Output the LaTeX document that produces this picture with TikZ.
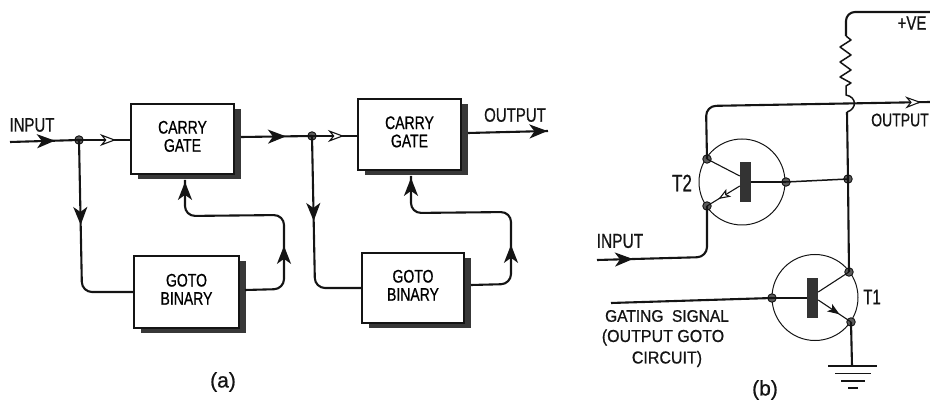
\documentclass[tikz,border=0pt]{standalone}
\usepackage{fontspec}
\usepackage{graphicx}
\setmainfont{Liberation Sans}[FakeBold=0.8]
\usetikzlibrary{shadows,arrows.meta,decorations.markings,bending}
\newcommand\lbl[2][14]{\scalebox{1}[1.3]{\fontsize{#1}{14}\selectfont #2}}
\newcommand\lblb[2]{\lbl{\begin{tabular}{@{}c@{}}#1\\#2\end{tabular}}}
\newcommand\tlbl[2][17]{\scalebox{1}[1.4]{\fontsize{#1}{18}\selectfont #2}}
\newcommand\slbl[2][16]{\scalebox{1}[1.08]{\fontsize{#1}{14}\selectfont #2}}
\definecolor{ink}{gray}{0.08}
\tikzset{
  x=1pt,y=-1pt,
  wire/.style={draw=ink,line width=2.1pt,rounded corners=10pt},
  thinwire/.style={draw=ink,line width=1.1pt},
  blockbox/.style={draw=ink,line width=1.7pt,fill=white,minimum width=#1,inner sep=0pt,
    general shadow={fill=black!78,shadow xshift=6.5pt,shadow yshift=-5.5pt}},
  dot/.style={circle,draw=ink,fill=ink!70,line width=0.9pt,minimum size=8.5pt,inner sep=0pt},
  txt/.style={inner sep=0pt,text=ink},
  solidarr/.style={postaction={decorate,decoration={markings,mark=at position #1 with {\arrow{Stealth[length=18pt,width=14pt,inset=5pt,fill=ink,color=ink]}}}}},
  openarr/.style={postaction={decorate,decoration={markings,mark=at position #1 with {\arrow[line width=1.1pt]{Stealth[length=16pt,width=12pt,inset=5pt,fill=white,color=ink]}}}}},
  tcircle/.style={circle,draw=ink,line width=1pt,minimum size=86pt,inner sep=0pt},
  tbar/.style={draw=none,fill=black!80,minimum width=11pt,minimum height=40pt,inner sep=0pt},
}
\begin{document}
\begin{tikzpicture}
\useasboundingbox (0,0) rectangle (930,414);
% ---------- part (a)
\node[blockbox=103pt,minimum height=70pt] (cg1) at (182.5,139) {\lblb{CARRY}{GATE}};
\node[blockbox=105pt,minimum height=72pt] (gb1) at (186.5,292) {\lblb{GOTO}{BINARY}};
\node[blockbox=103pt,minimum height=71pt] (cg2) at (409.5,134.5) {\lblb{CARRY}{GATE}};
\node[blockbox=102pt,minimum height=70pt] (gb2) at (413,288) {\lblb{GOTO}{BINARY}};
\coordinate (ain) at (10,142);
\coordinate (aout) at (548,131);
\node[dot] (j1) at (79,140) {};
\node[dot] (j2) at (312,136) {};
\coordinate (cg1r) at (241,137);
\coordinate (cg2r) at (468,133);
\coordinate (gb1r) at (245,290);
\coordinate (gb2r) at (471,285);
\draw[wire,solidarr=45pt] (ain) -- (j1.center);
\draw[wire,openarr=37pt] (j1.center) -- (cg1.west |- j1);
\draw[wire,solidarr=45pt] (cg1r) -- (j2.center);
\draw[wire,openarr=32pt] (j2.center) -- (cg2.west |- j2);
\draw[wire,solidarr=79.5pt] (cg2r) -- (aout);
\draw[wire,solidarr=85pt] (j1.center) -- (82,292) -- (gb1.west);
\draw[wire,solidarr=85pt] (j2.center) -- (315,288) -- (gb2.west);
\draw[wire,solidarr=78pt,solidarr=0.992] (gb1r) -- (284,289) -- (284,215) -- (185,216) -- (185,180);
\draw[wire,solidarr=75pt,solidarr=0.992] (gb2r) -- (511,284) -- (511,212) -- (411,213) -- (411,176);
\node[txt] at (32,125) {\lbl[15]{INPUT}};
\node[txt] at (515,115) {\lbl[15]{OUTPUT}};
\node[txt] at (223,382) {\fontsize{21}{24}\selectfont (a)};
% ---------- part (b)
\node[tcircle] (t2) at (742,182) {};
\node[tbar] (b2) at (745.5,182) {};
\node[tcircle] (t1) at (815,297.5) {};
\node[tbar] (b1) at (812.5,298) {};
\node[dot] (t2c) at (707,159) {};
\node[dot] (t2e) at (707,206) {};
\node[dot] (t2b) at (786,182) {};
\node[dot] (jb) at (848,179) {};
\node[dot] (t1c) at (849,272) {};
\node[dot] (t1e) at (851,322) {};
\node[dot] (t1b) at (772,298) {};
\coordinate (vcc) at (930,12);
\coordinate (bout) at (930,102);
\coordinate (bin) at (597,260);
\coordinate (gate) at (611,303);
\coordinate (gnd) at (852,366);
% supply, resistor and hop over the output line
\draw[wire,rounded corners=9pt] (vcc) -- (846,12) -- (846,36);
\draw[draw=ink,line width=1.5pt,line join=round] (846,36) -- (851,40) -- (840,47) -- (851,55) -- (840,62) -- (851,70) -- (840,77) -- (851,83) -- (846,86) -- (846,95)
   .. controls (857,97) and (857,109) .. (847,112);
\draw[wire] (847,112) -- (jb.center);
\draw[wire] (jb.center) -- (t1c.center);
% output
\draw[wire,openarr=264pt] (t2c.center) -- (706,106) -- (bout);
% input
\draw[wire,solidarr=36pt] (bin) -- (707,257) -- (t2e.center);
% gating
\draw[wire] (gate) -- (t1b.center);
% base of T2
\draw[thinwire,line width=1.5pt] (t2b.center) -- (jb.center);
% inside T2
\draw[thinwire] (t2c.center) -- (b2.west |- 0,176);
\draw[thinwire] (b2.east) -- (t2b.center);
\draw[thinwire,postaction={decorate,decoration={markings,mark=at position 0.65 with {\arrow{Stealth[length=12pt,width=9pt,inset=3pt,fill=white,color=ink]}}}}] (b2.west |- 0,186) -- (t2e.center);
% inside T1
\draw[thinwire] (t1b.center) -- (b1.west);
\draw[thinwire] (b1.east |- 0,292) -- (t1c.center);
\draw[thinwire,postaction={decorate,decoration={markings,mark=at position 0.65 with {\arrow{Stealth[length=12pt,width=9pt,inset=3pt,fill=ink,color=ink]}}}}] (b1.east |- 0,300) -- (t1e.center);
% ground
\draw[wire] (t1e.center) -- (gnd);
\coordinate (g1l) at (828,366); \coordinate (g1r) at (877,366);
\coordinate (g2l) at (835,373.5); \coordinate (g2r) at (871,373.5);
\coordinate (g3l) at (841,381); \coordinate (g3r) at (865,381);
\coordinate (g4l) at (848,388); \coordinate (g4r) at (858,388);
\draw[wire,line width=1.5pt] (g1l) -- (g1r);
\draw[wire,line width=1.5pt] (g2l) -- (g2r);
\draw[wire,line width=1.5pt] (g3l) -- (g3r);
\draw[wire,line width=1.5pt] (g4l) -- (g4r);
% labels
\node[txt] at (912,23) {\lbl[15]{+VE}};
\node[txt] at (900,120) {\lbl[14]{OUTPUT}};
\node[txt] at (682,183) {\tlbl{T2}};
\node[txt] at (872,297) {\tlbl[15]{T1}};
\node[txt] at (620,241) {\lbl[15.5]{INPUT}};
\node[txt] at (667,316) {\slbl[15.5]{GATING\ \ SIGNAL}};
\node[txt] at (663,337.5) {\slbl{(OUTPUT GOTO}};
\node[txt] at (667,359) {\slbl{CIRCUIT)}};
\node[txt] at (765,390) {\fontsize{21}{24}\selectfont (b)};
\end{tikzpicture}
\end{document}
